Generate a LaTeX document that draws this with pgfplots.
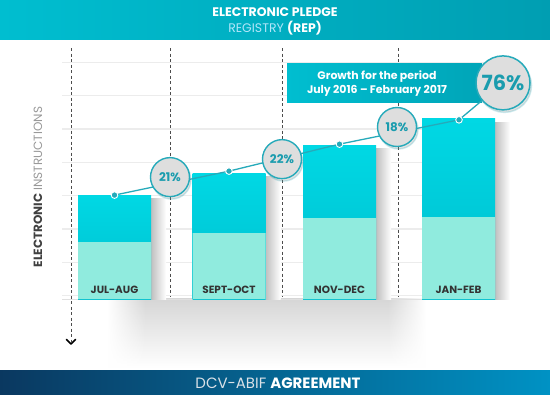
\documentclass[border=0pt]{standalone}
\usepackage{pgfplots}
\pgfplotsset{compat=1.18}
\usepackage{fontspec}
\setmainfont{Poppins}
\usetikzlibrary{shadows,fadings}

\definecolor{topL}{RGB}{0,190,208}
\definecolor{topR}{RGB}{0,158,178}
\definecolor{botL}{RGB}{10,56,96}
\definecolor{botR}{RGB}{0,146,196}
\definecolor{barT}{RGB}{0,216,228}
\definecolor{barB}{RGB}{0,190,206}
\definecolor{barL}{RGB}{144,235,222}
\definecolor{ring}{RGB}{38,170,186}
\definecolor{pct}{RGB}{26,156,174}
\definecolor{circ}{RGB}{222,222,222}
\definecolor{boxL}{RGB}{0,190,208}
\definecolor{boxR}{RGB}{0,165,184}
\definecolor{gridc}{RGB}{236,236,236}

\pgfdeclarehorizontalshading{plateau}{100bp}{color(0bp)=(transparent!100); color(25bp)=(transparent!100); color(31bp)=(transparent!0); color(69bp)=(transparent!0); color(75bp)=(transparent!100); color(100bp)=(transparent!100)}
\tikzfading[name=fadelr, shading=plateau]

\newcommand\fs[1]{\fontsize{#1}{#1}\selectfont}

\begin{document}
\begin{tikzpicture}[x=1bp,y=1bp]
\useasboundingbox (0,0) rectangle (550,394);
\fill[white] (0,0) rectangle (550,394);
% top banner
\shade[left color=topL,right color=topR] (0,355) rectangle (550,394);
\node[anchor=base,white,font=\bfseries\fs{12.5}] at (275,378) {ELECTRONIC PLEDGE};
\node[anchor=base,font=\fs{12.5}] at (275,362) {\textcolor{white!70!cyan}{REGISTRY} \textcolor{white}{\bfseries (REP)}};
% bottom banner
\shade[left color=botL,right color=botR] (0,0) rectangle (550,24);
\node[anchor=base,font=\fs{15},white] at (278,6) {\textcolor{white!85!botL}{DCV-ABIF} \textbf{AGREEMENT}};
% soft shadow under the chart
\shade[top color=black!16,bottom color=white,path fading=fadelr] (108,95) rectangle (425,26);
% grid lines
\foreach \py in {295.5,262.2,228.9,195.6,162.3,129,95.7,62.4}{\draw[gridc,line width=1.2bp] (62,394-\py) -- (510,394-\py);}
\draw[black!12,line width=1.5bp] (62,94.5) -- (510,94.5);
% dashed separators
\foreach \xx in {170,282,398}{\draw[black!70,dash pattern=on 3bp off 2.5bp,line width=0.8bp] (\xx,346) -- (\xx,98);}
\draw[black!70,dash pattern=on 3bp off 2.5bp,line width=0.8bp] (71,346) -- (71,52);
\draw[black,line width=1.6bp,line cap=round,line join=round] (66.5,54.5) -- (71,50) -- (75.5,54.5);
% y label
\node[rotate=90,font=\fs{12}] at (38,207) {\textcolor{black!75}{\bfseries ELECTRONIC} \textcolor{black!40}{INSTRUCTIONS}};
% growth box
\shade[left color=boxL,right color=boxR] (287,292) rectangle (482,331);
\node[anchor=base,white,font=\bfseries\fs{11}] at (377,315) {Growth for the period};
\node[anchor=base,white,font=\bfseries\fs{11}] at (377,301) {July 2016 -- February 2017};

\begin{axis}[at={(0,0)}, anchor=south west, scale only axis,
  width=550bp, height=394bp, xmin=0, xmax=550, ymin=-28.53, ymax=89.79,
  enlargelimits=false, axis line style={draw=none}, ytick=\empty, xtick=\empty,
  major tick length=0pt, clip=false]
% bar shadows (one path per bar so that each gets its own shading)
\pgfplotsset{shadowbar/.style={ybar, bar width=15bp, bar shift=44bp, draw=none, left color=black!25, right color=white},
  topbar/.style={ybar, bar width=73bp, bar shift=0pt, draw=none, top color=barT, bottom color=barB}}
\addplot[shadowbar] coordinates {(114.5,30.2)};
\addplot[shadowbar] coordinates {(229,36.8)};
\addplot[shadowbar] coordinates {(339.5,45.2)};
\addplot[shadowbar] coordinates {(458.5,53.1)};
% upper part (total)
\addplot[topbar] coordinates {(114.5,31.2)};
\addplot[topbar] coordinates {(229,37.8)};
\addplot[topbar] coordinates {(339.5,46.2)};
\addplot[topbar] coordinates {(458.5,54.1)};
% lower part
\addplot[ybar, bar width=73bp, bar shift=0pt, draw=none, fill=barL]
  coordinates {(114.5,17.1) (229,19.8) (339.5,24.3) (458.5,24.6)};
% category labels inside the bars
\addplot[only marks, mark=none, nodes near coords, point meta=explicit symbolic,
  every node near coord/.style={anchor=base, inner sep=0pt, font=\bfseries\fs{10.5}, text=black!80}]
  coordinates {(114.5,1.8) [JUL-AUG] (229,1.8) [SEPT-OCT] (339.5,1.8) [NOV-DEC] (458.5,1.8) [JAN-FEB]};
\addplot[ring, line width=1.3bp] coordinates {(459,53.8) (503,64.9)};
\addplot[ring, line width=1.3bp, mark=*, mark size=3.3bp, mark options={fill=ring, draw=white, line width=0.9bp}]
  coordinates {(114.5,31.2) (229,38.4) (339.5,46.5) (459,53.8)};
\addplot[only marks, mark=none, nodes near coords, point meta=explicit symbolic,
  every node near coord/.style={circle, draw=ring, line width=1.4bp, fill=circ, minimum size=39bp, inner sep=0pt, anchor=center, text=pct, font=\bfseries\fs{12}, drop shadow={opacity=0.22, shadow xshift=1.5bp, shadow yshift=-2.5bp}}]
  coordinates {(170,36.6) [21\%] (282,42.0) [22\%] (397,51.65) [18\%]};
\addplot[only marks, mark=none, nodes near coords, point meta=explicit symbolic,
  every node near coord/.style={circle, draw=ring, line width=1.5bp, fill=circ, minimum size=54bp, inner sep=0pt, anchor=center, text=pct, font=\bfseries\fs{21}, drop shadow={opacity=0.22, shadow xshift=1.5bp, shadow yshift=-2.5bp}}]
  coordinates {(503,64.9) [76\%]};
\end{axis}
\end{tikzpicture}
\end{document}
